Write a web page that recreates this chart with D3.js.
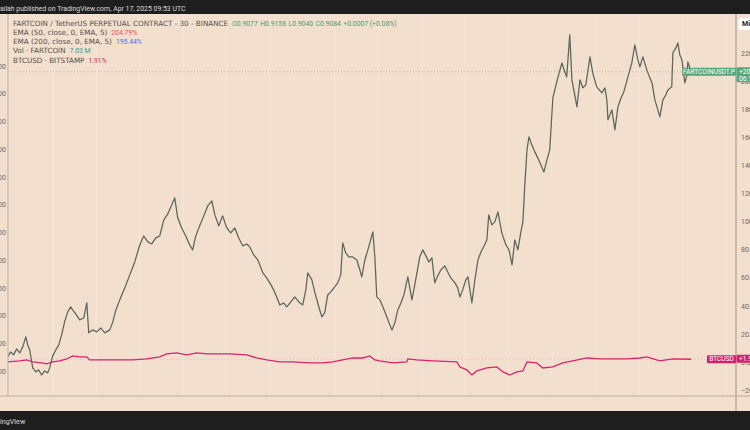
<!DOCTYPE html>
<html>
<head>
<meta charset="utf-8">
<script src="https://cdn.jsdelivr.net/npm/d3@7"></script>
<style>
  html, body { margin: 0; padding: 0; background: #f2dfcd; }
  svg { display: block; font-family: Roboto, "Liberation Sans", sans-serif; }
</style>
</head>
<body>
<svg id="chart" width="750" height="430"></svg>
<script>
/** FARTCOIN perp, % change since Mar 17 (days since Mar 17 00:00 UTC) */
const fartDay = [-0.07,0.06,0.20,0.34,0.48,0.62,0.76,0.85,0.94,1.08,1.22,1.35,1.49,1.63,1.77,1.86,2.00,2.14,2.28,2.41,2.55,2.69,2.83,2.92,3.06,3.24,3.43,3.57,3.66,3.84,4.03,4.21,4.40,4.63,4.77,4.91,5.09,5.32,5.55,5.78,6.01,6.19,6.38,6.56,6.75,6.93,7.12,7.30,7.48,7.62,7.76,7.94,8.13,8.31,8.45,8.59,8.77,8.96,9.14,9.33,9.47,9.65,9.83,10.02,10.20,10.39,10.57,10.76,10.94,11.08,11.26,11.45,11.68,11.86,12.00,12.18,12.32,12.46,12.64,12.78,12.97,13.15,13.34,13.52,13.66,13.75,13.94,14.07,14.17,14.30,14.40,14.53,14.67,14.81,14.99,15.13,15.27,15.36,15.50,15.64,15.82,16.01,16.15,16.24,16.38,16.52,16.61,16.75,16.84,16.93,17.07,17.21,17.39,17.53,17.63,17.76,17.90,18.04,18.18,18.36,18.45,18.55,18.68,18.82,18.91,19.05,19.19,19.33,19.47,19.60,19.74,19.88,20.06,20.20,20.34,20.53,20.66,20.76,20.89,21.03,21.13,21.22,21.31,21.45,21.59,21.73,21.87,22.00,22.09,22.23,22.37,22.51,22.69,22.88,23.02,23.16,23.29,23.43,23.57,23.66,23.75,23.85,23.94,24.07,24.21,24.35,24.49,24.63,24.77,24.90,25.04,25.13,25.27,25.46,25.59,25.68,25.82,25.92,26.05,26.15,26.29,26.42,26.56,26.75,26.88,27.06,27.30,27.44,27.53,27.58,27.76,27.90,28.04,28.18,28.31,28.50,28.68,28.82,28.96,29.05,29.19,29.37,29.51,29.61,29.74,29.88,29.97,30.11,30.25,30.34,30.52,30.57,30.71,30.80,30.89,30.99,31.12,31.22,31.26,31.41];
const fartPct = [3.6,7.1,5.0,9.3,6.4,10.7,17.8,12.1,8.5,-4.3,-7.1,-5.7,-9.3,-6.4,-7.8,-4.3,4.3,8.5,12.1,19.2,28.5,35.6,39.2,37.0,34.2,29.9,31.3,42.0,20.7,22.8,21.4,24.2,20.7,22.8,28.5,37.0,44.2,52.7,62.0,71.2,83.3,89.7,85.5,84.0,88.3,89.7,101.1,105.4,111.8,116.8,102.6,95.4,89.7,83.3,79.8,89.7,96.9,104.0,111.1,114.7,104.7,96.9,104.0,95.4,91.9,95.4,88.3,82.6,84.0,81.9,76.2,72.6,63.4,59.8,56.3,51.3,46.3,40.6,42.0,39.2,42.7,46.3,42.7,40.6,51.3,63.4,58.4,49.9,44.2,37.0,32.1,34.9,47.7,49.9,53.4,56.3,62.0,84.8,77.6,74.8,74.8,72.6,65.5,60.5,72.6,79.8,84.8,92.6,74.8,46.3,44.2,39.2,32.1,26.4,22.8,27.8,37.0,42.0,47.7,60.5,52.7,44.2,54.8,67.0,74.8,79.8,75.5,71.2,74.1,56.3,61.3,65.5,68.4,64.1,59.8,56.3,52.7,46.3,51.3,58.4,60.5,51.3,42.0,58.4,72.6,78.3,82.6,86.9,104.7,97.6,99.7,106.8,91.9,83.3,79.8,69.1,86.9,79.8,92.6,99.7,126.1,151.0,160.3,154.6,149.6,145.3,140.3,135.3,143.9,151.0,188.0,193.7,202.3,213.0,206.6,203.0,232.9,200.9,190.2,181.6,200.9,195.2,197.3,217.2,205.8,195.9,191.6,195.2,186.6,172.4,179.5,165.2,181.6,188.0,192.3,203.0,213.0,225.8,215.1,210.1,217.2,208.0,202.3,198.7,186.6,179.5,174.5,186.6,190.2,193.7,195.9,220.1,223.6,227.2,218.7,215.1,198.7,204.4,213.7,206.6];

/** BTCUSD Bitstamp, % change since Mar 17 */
const btcDay = [-0.07,0.48,0.80,1.08,1.49,1.72,2.00,2.32,2.65,2.92,3.24,3.57,3.70,4.17,4.95,5.69,6.33,6.93,7.25,7.71,8.17,8.64,9.10,9.56,10.16,10.94,11.40,11.86,12.46,13.06,13.84,14.44,14.90,15.36,15.82,16.29,16.61,16.84,17.07,17.67,18.31,18.36,18.77,19.51,20.62,20.76,21.08,21.31,21.54,22.00,22.46,22.74,23.06,23.38,23.66,23.85,24.30,24.58,25.04,25.50,25.96,26.61,27.21,27.81,28.45,29.05,29.37,29.97,30.57,31.41];
const btcPct = [0,0.7,1.4,0,-0.7,-1.4,0,0.7,2.1,4.3,3.6,3.6,1.4,1.4,1.4,1.4,2.1,3.6,5.7,6.4,5.0,6.4,5.7,5.7,5.7,5.0,2.8,1.4,0,0,-0.7,-0.7,0,1.4,2.8,2.8,4.3,1.4,0.7,-0.7,0,2.1,1.4,0.7,0,-3.6,-5.7,-9.3,-6.4,-4.3,-3.6,-7.1,-9.3,-7.1,-6.4,0,-0.7,-4.3,-3.6,-0.7,0.7,2.8,2.1,2.1,2.1,2.8,3.6,0.7,2.1,1.91];

/** axis ticks */
const dateTicks = ["2025-03-17","2025-03-19","2025-03-21","2025-03-23","2025-03-25","2025-03-27","2025-03-29","2025-04-01","2025-04-03","2025-04-05","2025-04-07","2025-04-09","2025-04-11","2025-04-13","2025-04-15","2025-04-17","2025-04-19"];
const rightTicks = [-20,0,20,40,60,80,100,120,140,160,180,200,220];
const leftTicks = [0,2,4,6,8,10,12,14,16,18,20,22];

/** legend texts */
const legendNames = ["FARTCOIN / TetherUS PERPETUAL CONTRACT - 30 - BINANCE","EMA (50, close, 0, EMA, 5)","EMA (200, close, 0, EMA, 5)","Vol · FARTCOIN","BTCUSD · BITSTAMP"];
const legendValues = [["O0.9077","H0.9158","L0.9040","C0.9084","+0.0007 (+0.08%)"],["204.79%"],["195.44%"],["7.03 M"],["1.91%"]];
const legendColors = ["#4e9a70","#ef4f5b","#4d6ef0","#2ea593","#d8246f"];

const W = 750, H = 430;
const plot = { left: 8, right: 736, top: 14, bottom: 396 };
const day0 = Date.UTC(2025, 2, 17);
const toDate = (d) => new Date(day0 + d * 864e5);

const svg = d3.select("#chart");

/** background + dark bars */
svg.append("rect").attr("width", W).attr("height", H).attr("fill", "#f2dfcd");
svg.append("rect").attr("width", W).attr("height", plot.top).attr("fill", "#1e1e1e");
svg.append("rect").attr("y", 411).attr("width", W).attr("height", H - 411).attr("fill", "#1e1e1e");
svg.append("text").attr("x", 0).attr("y", 10.5)
  .attr("fill", "#d8d8d8").attr("font-size", 6.9)
  .text("ailah published on TradingView.com, Apr 17, 2025 09:53 UTC");
svg.append("text").attr("x", 0).attr("y", 423.5)
  .attr("fill", "#d8d8d8").attr("font-size", 7.2).text("ingView");

/** scales */
const x = d3.scaleUtc()
  .domain([new Date(day0), new Date(Date.UTC(2025, 3, 19))])
  .range([9.3, 725.6]);
const y = d3.scaleLinear().domain([-20, 220]).range([390, 53]);
const yLeft = d3.scaleLinear().domain([0, 22]).range([371, 66]);

/** clip to plot */
const defs = svg.append("defs");
defs.append("clipPath").attr("id", "plotClip").append("rect")
  .attr("x", plot.left).attr("y", plot.top)
  .attr("width", plot.right - plot.left).attr("height", plot.bottom - plot.top);
defs.append("clipPath").attr("id", "xClip").append("rect")
  .attr("x", plot.left + 0.5).attr("y", plot.bottom)
  .attr("width", plot.right - plot.left).attr("height", 15);

const g = svg.append("g").attr("clip-path", "url(#plotClip)");

/** vertical grid */
g.selectAll("line.grid").data(dateTicks).join("line")
  .attr("x1", (d) => x(new Date(d))).attr("x2", (d) => x(new Date(d)))
  .attr("y1", plot.top).attr("y2", plot.bottom)
  .attr("stroke", "#f6e8db").attr("stroke-width", 1);

/** last-price lines */
const lastFart = fartPct[fartPct.length - 1];
const lastBtc = btcPct[btcPct.length - 1];
g.append("line").attr("x1", plot.left).attr("x2", plot.right)
  .attr("y1", y(lastFart)).attr("y2", y(lastFart))
  .attr("stroke", "#7fae8d").attr("stroke-width", 0.7).attr("stroke-dasharray", "1 2");
g.append("line").attr("x1", plot.left).attr("x2", plot.right)
  .attr("y1", y(lastBtc)).attr("y2", y(lastBtc))
  .attr("stroke", "#e0a5b5").attr("stroke-width", 0.6).attr("stroke-dasharray", "1 2");

/** series */
const line = d3.line().x((d) => x(toDate(d[0]))).y((d) => y(d[1]));
g.append("path")
  .attr("d", line(d3.zip(btcDay, btcPct)))
  .attr("fill", "none").attr("stroke", "#d8246f").attr("stroke-width", 1.3);
g.append("path")
  .attr("d", line(d3.zip(fartDay, fartPct)))
  .attr("fill", "none").attr("stroke", "#5b665d").attr("stroke-width", 1.25)
  .attr("stroke-linejoin", "round");

/** axes lines */
svg.append("line").attr("x1", plot.left).attr("x2", plot.left)
  .attr("y1", plot.top).attr("y2", plot.bottom).attr("stroke", "#b9ada1");
svg.append("line").attr("x1", plot.right).attr("x2", plot.right)
  .attr("y1", plot.top).attr("y2", 411).attr("stroke", "#9d948b");
svg.append("line").attr("x1", 0).attr("x2", W)
  .attr("y1", plot.bottom).attr("y2", plot.bottom).attr("stroke", "#b9ada1");

/** right axis */
const rightAxis = svg.append("g")
  .attr("transform", `translate(${plot.right},0)`)
  .call(d3.axisRight(y).tickValues(rightTicks).tickSize(0)
    .tickFormat((d) => d3.format(".2f")(d) + "%"));
rightAxis.select(".domain").remove();
rightAxis.selectAll("text").attr("x", 5).attr("fill", "#6e6862")
  .attr("font-size", 7).attr("font-family", "Roboto, sans-serif");

/** left axis (mostly cut off) */
const leftAxis = svg.append("g")
  .attr("transform", `translate(${plot.left},0)`)
  .call(d3.axisLeft(yLeft).tickValues(leftTicks).tickSize(0)
    .tickFormat((d) => d3.format(".2f")(d)));
leftAxis.select(".domain").remove();
leftAxis.selectAll("text").attr("x", -2).attr("fill", "#6e6862")
  .attr("font-size", 7).attr("font-family", "Roboto, sans-serif");

/** bottom axis */
const fmt = (d) => (d.getUTCDate() === 1 ? d3.utcFormat("%b")(d) : d3.utcFormat("%-d")(d));
const bottomAxis = svg.append("g")
  .attr("transform", `translate(0,${plot.bottom})`)
  .attr("clip-path", "url(#xClip)")
  .call(d3.axisBottom(x).tickValues(dateTicks.map((d) => new Date(d))).tickSize(0).tickFormat(fmt));
bottomAxis.select(".domain").remove();
bottomAxis.selectAll("text").attr("dy", "0.71em").attr("y", 5)
  .attr("fill", "#7a736c").attr("font-size", 6.8).attr("font-family", "Roboto, sans-serif")
  .attr("font-weight", (d) => (d.getUTCDate() === 1 ? "bold" : "normal"));

/** legend: names in DejaVu, values in Roboto (narrower digits) */
const legend = svg.append("g").attr("font-size", 7.2);
legendNames.forEach((name, i) => {
  const t = legend.append("text").attr("x", 13).attr("y", 25.8 + i * 9.2).attr("fill", "#55504a");
  t.append("tspan").attr("font-family", "'DejaVu Sans', sans-serif").text(name);
  legendValues[i].forEach((v, j) =>
    t.append("tspan").attr("dx", j === 0 ? 4 : 2.5).attr("font-family", "Roboto, sans-serif")
      .attr("font-size", 6.8).attr("fill", legendColors[i]).text(v));
});

/** price labels on the right */
const tag = (value, name, right1, right2, color, left) => {
  const cy = y(value);
  const h = right2 ? 15 : 8;
  svg.append("rect").attr("x", left).attr("y", cy - 4).attr("width", plot.right - left)
    .attr("height", 8).attr("fill", color).attr("rx", 1);
  svg.append("text").attr("x", (left + plot.right) / 2).attr("y", cy + 0.3)
    .attr("dominant-baseline", "middle").attr("text-anchor", "middle")
    .attr("fill", "#fff").attr("font-size", 6.6).text(name);
  svg.append("rect").attr("x", plot.right + 0.5).attr("y", cy - 4.5).attr("width", 20)
    .attr("height", h).attr("fill", color).attr("rx", 1);
  svg.append("text").attr("x", plot.right + 3).attr("y", cy + 0.3)
    .attr("dominant-baseline", "middle").attr("fill", "#fff").attr("font-size", 6.6).text(right1);
  if (right2)
    svg.append("text").attr("x", plot.right + 3).attr("y", cy + 7.3)
      .attr("dominant-baseline", "middle").attr("fill", "#fff").attr("font-size", 6.6).text(right2);
};
tag(lastFart, "FARTCOINUSDT.P", "+" + d3.format(".2f")(lastFart) + "%", "06:12", "#5aa67b", 682);
tag(lastBtc, "BTCUSD", "+" + d3.format(".2f")(lastBtc) + "%", null, "#d4206c", 707);

/** scale mode button */
svg.append("rect").attr("x", 738.5).attr("y", 18).attr("width", 20).attr("height", 12)
  .attr("rx", 2).attr("fill", "#ffffff");
svg.append("text").attr("x", 742).attr("y", 24.3).attr("dominant-baseline", "middle")
  .attr("font-size", 7).attr("font-weight", "bold").attr("fill", "#222").text("Mi");
</script>
</body>
</html>
